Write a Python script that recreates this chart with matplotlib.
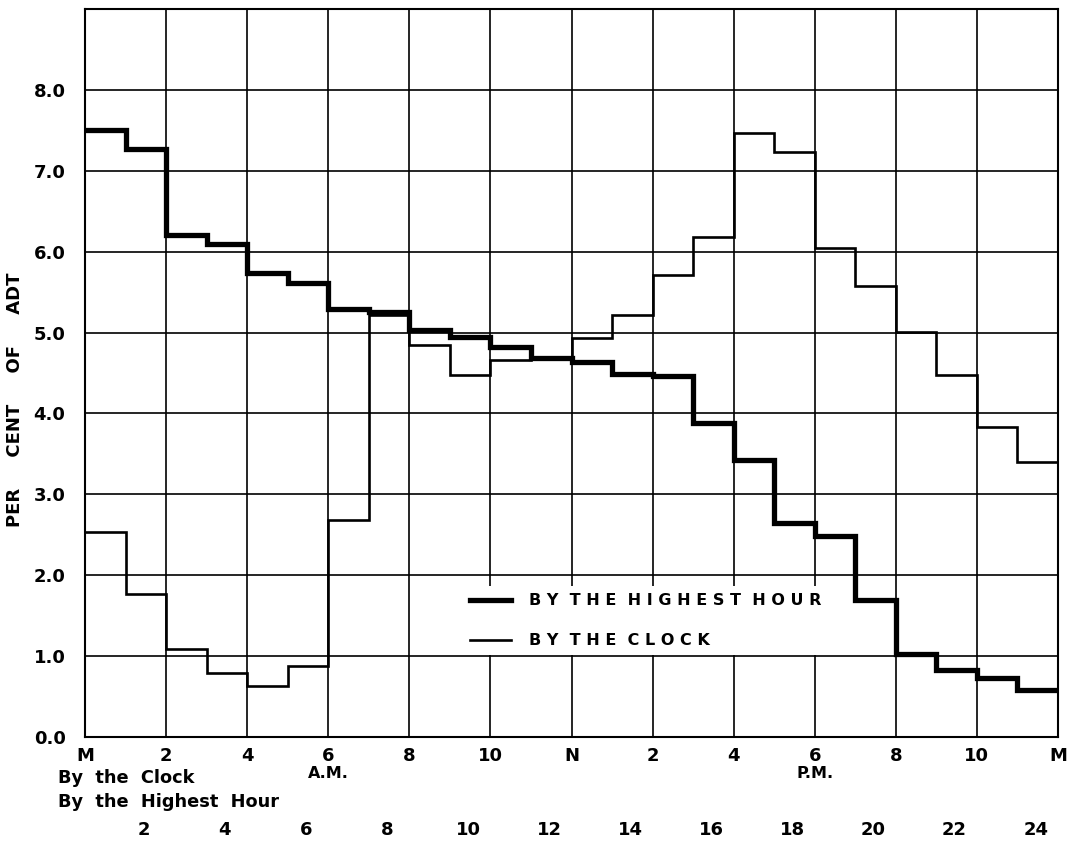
import numpy as np
import matplotlib
matplotlib.use("Agg")
import matplotlib.pyplot as plt
from matplotlib.transforms import blended_transform_factory

plt.rcParams['font.family'] = ['DejaVu Sans']
plt.rcParams['font.weight'] = 'bold'

# hour edges 0..24
hours = np.arange(0, 25)

# per cent of ADT, hour by hour by the clock
by_clock = [2.53, 1.77, 1.09, 0.79, 0.63, 0.88, 2.68, 5.22, 4.85, 4.47, 4.66, 4.68,
            4.93, 5.22, 5.71, 6.18, 7.47, 7.23, 6.04, 5.58, 5.01, 4.47, 3.83, 3.40]
# same hours ranked from highest to lowest
by_highest = [7.50, 7.27, 6.21, 6.09, 5.74, 5.61, 5.29, 5.25, 5.03, 4.95, 4.82, 4.68,
              4.63, 4.49, 4.46, 3.88, 3.42, 2.65, 2.48, 1.69, 1.03, 0.83, 0.73, 0.58]

clock_ticks = [0, 2, 4, 6, 8, 10, 12, 14, 16, 18, 20, 22, 24]
clock_labels = ['M', '2', '4', '6', '8', '10', 'N', '2', '4', '6', '8', '10', 'M']
highest_ticks = [2, 4, 6, 8, 10, 12, 14, 16, 18, 20, 22, 24]
y_ticks = [0, 1, 2, 3, 4, 5, 6, 7, 8]

fig = plt.figure(figsize=(10.68, 8.41), dpi=100)
ax = fig.add_axes([85 / 1068, 1 - 737 / 841, 973 / 1068, 728 / 841])

ax.set_xlim(0, 24)
ax.set_ylim(0, 9)

# grid
for x in clock_ticks:
    ax.axvline(x, color='black', lw=1.2, zorder=1)
for y in range(0, 10):
    ax.axhline(y, color='black', lw=1.2, zorder=1)

l1 = ax.stairs(by_highest, hours, baseline=None, color='black', lw=3.8, zorder=4,
               label='B Y  T H E  H I G H E S T  H O U R')
l2 = ax.stairs(by_clock, hours, baseline=None, color='black', lw=1.9, zorder=3,
               label='B Y  T H E  C L O C K')

for s in ax.spines.values():
    s.set_linewidth(1.5)

ax.set_xticks(clock_ticks)
ax.set_xticklabels(clock_labels)
ax.set_yticks(y_ticks)
ax.set_yticklabels(['%.1f' % v for v in y_ticks])
ax.tick_params(length=0, labelsize=13)
ax.tick_params(axis='x', pad=7)
ax.tick_params(axis='y', pad=14)

ax.set_ylabel('PER     CENT     OF     ADT', fontsize=13, fontweight='bold',
              family=['Liberation Sans Narrow', 'DejaVu Sans'])
ax.yaxis.set_label_coords((24 - 85) / 973, (737 - 400) / 728)

leg = ax.legend(handles=[l1, l2], loc='upper left', bbox_to_anchor=(0.380, 0.218),
                fontsize=11.5, frameon=True, framealpha=1, facecolor='white',
                edgecolor='none', fancybox=False, handlelength=2.6, handletextpad=1.1,
                labelspacing=1.55, borderpad=0.45)
leg.set_zorder(2)

# A.M. / P.M. under the 6 o'clock ticks
tr = blended_transform_factory(ax.transData, fig.transFigure)
ax.text(6, 1 - 773 / 841, 'A.M.', transform=tr, ha='center', va='center', fontsize=11.5)
ax.text(18, 1 - 773 / 841, 'P.M.', transform=tr, ha='center', va='center', fontsize=11.5)

fig.text(58 / 1068, 1 - 778 / 841, 'By  the  Clock', ha='left', va='center', fontsize=12.8)
fig.text(58 / 1068, 1 - 802 / 841, 'By  the  Highest  Hour', ha='left', va='center',
         fontsize=12.8)

# second scale: ranked hour numbers
for h in highest_ticks:
    ax.text(h - 0.55, 1 - 830 / 841, str(h), transform=tr, ha='center', va='center',
            fontsize=13)

fig.savefig('out.png', dpi=100)
